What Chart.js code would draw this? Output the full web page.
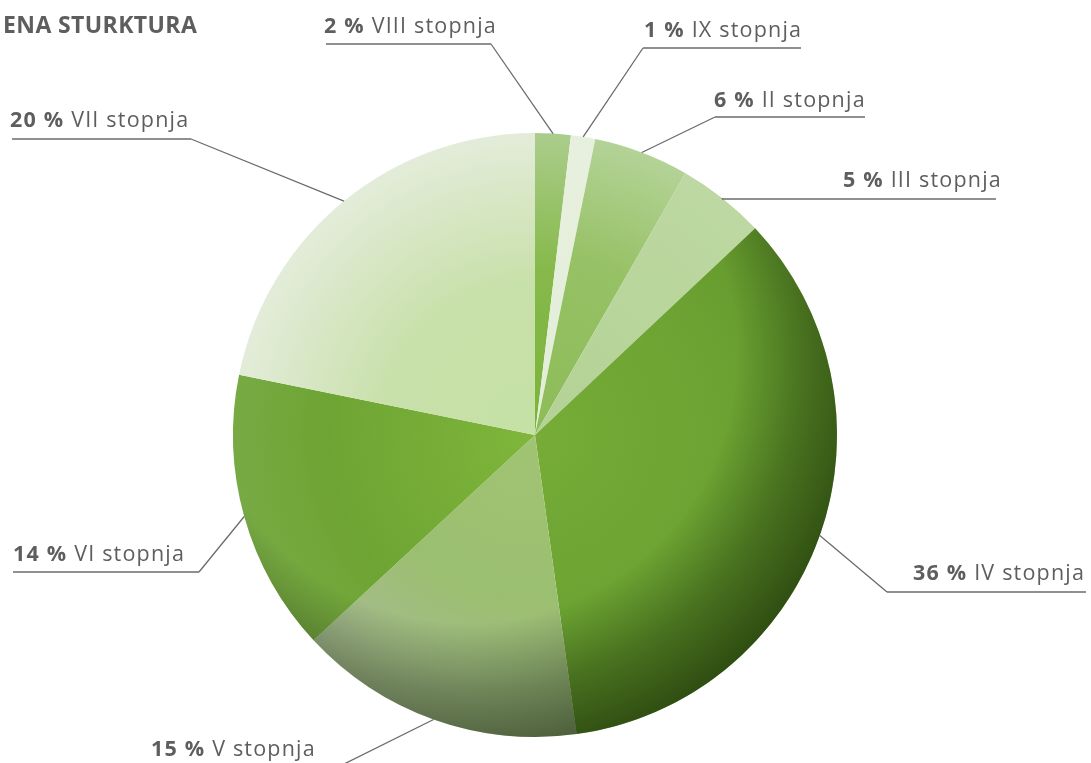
<!DOCTYPE html>
<html>
<head>
<meta charset="utf-8">
<script src="https://cdn.jsdelivr.net/npm/chart.js@4.4.1/dist/chart.umd.min.js"></script>
<style>
  html, body { margin: 0; padding: 0; background: #fff; }
  canvas { display: block; }
</style>
</head>
<body>
<canvas id="pie" width="1091" height="763"></canvas>
<script>
// Data
const titleText = "ENA STURKTURA";
const categories = ["VIII stopnja", "IX stopnja", "II stopnja", "III stopnja", "IV stopnja", "V stopnja", "VI stopnja", "VII stopnja"];
const percentLabels = [2, 1, 6, 5, 36, 15, 14, 20];
const sliceShares = [1.9, 1.3, 5.1, 4.7, 34.8, 15.3, 15.1, 21.8];

// Styles: radial colour stops per slice (from centre to rim)
const sliceStops = [
    [[0, "#7bb339"], [0.55, "#86b94a"], [1, "#abcd8c"]],
    [[0, "#e2eed8"], [1, "#e7f0de"]],
    [[0, "#8dbc58"], [0.6, "#97c165"], [1, "#b3d397"]],
    [[0, "#b3d294"], [1, "#bdd8a2"]],
    [[0, "#76ac37"], [0.6, "#6ca332"], [1, "#64992e"]],
    [[0, "#a0c473"], [0.55, "#9bbf70"], [1, "#a9ba97"]],
    [[0, "#7fb63b"], [0.7, "#6ea433"], [1, "#78aa44"]],
    [[0, "#c5e1a5"], [0.5, "#c8e0aa"], [1, "#e3ecd9"]]
];
// slices that get the rim shadow (lower right side of the pie)
const shadedSlices = [4, 5, 6];

// Label layout: text left x, baseline y, underline y, underline from/to, elbow x
const labelLayout = [
    { tx: 324, ty: 33, uy: 44, u0: 326, u1: 491, ex: 491 },
    { tx: 644, ty: 37, uy: 48, u0: 643, u1: 801, ex: 643 },
    { tx: 714, ty: 107, uy: 117, u0: 715, u1: 865, ex: 715 },
    { tx: 843, ty: 187, uy: 199, u0: 722, u1: 996, ex: 722 },
    { tx: 913, ty: 580, uy: 592, u0: 887, u1: 1086, ex: 887 },
    { tx: 151, ty: 756, uy: 768, u0: 150, u1: 336, ex: 336 },
    { tx: 13, ty: 561, uy: 572, u0: 13, u1: 199, ex: 199 },
    { tx: 10, ty: 127, uy: 139, u0: 12, u1: 191, ex: 191 }
];

const textColor = "#5e5e5e";
const lineColor = "#6b6b6b";
const fontFamily = "'Open Sans', 'Noto Sans', sans-serif";

function pieGeom(chart) {
    const a = chart.chartArea;
    return {
        cx: (a.left + a.right) / 2,
        cy: (a.top + a.bottom) / 2,
        r: Math.min(a.right - a.left, a.bottom - a.top) / 2
    };
}

function sliceFill(ctx) {
    const chart = ctx.chart;
    const stops = sliceStops[ctx.dataIndex];
    if (!chart.chartArea) return stops[0][1];
    const { cx, cy, r } = pieGeom(chart);
    const g = chart.ctx.createRadialGradient(cx, cy, 0, cx, cy, r);
    stops.forEach(s => g.addColorStop(s[0], s[1]));
    return g;
}

// darkening towards the lower right rim, like the original's lighting
const shadePlugin = {
    id: "shade",
    afterDatasetsDraw(chart) {
        const arcs = chart.getDatasetMeta(0).data;
        if (!arcs.length) return;
        const { x, y, outerRadius: r } = arcs[0];
        const ctx = chart.ctx;
        const ox = x - 0.35 * 0.64 * r, oy = y - 0.35 * 0.77 * r;
        const R = 1.35 * r;
        const g = ctx.createRadialGradient(ox, oy, 0, ox, oy, R);
        g.addColorStop(0, "rgba(22,42,4,0)");
        g.addColorStop(0.66, "rgba(22,42,4,0)");
        g.addColorStop(0.83, "rgba(22,42,4,0.38)");
        g.addColorStop(1, "rgba(22,42,4,0.68)");
        ctx.save();
        ctx.beginPath();
        shadedSlices.forEach(i => {
            const a = arcs[i];
            ctx.moveTo(x, y);
            ctx.arc(x, y, r, a.startAngle, a.endAngle);
            ctx.closePath();
        });
        ctx.clip();
        ctx.fillStyle = g;
        ctx.fillRect(x - r, y - r, 2 * r, 2 * r);
        ctx.restore();
    }
};

const labelPlugin = {
    id: "leaderLabels",
    afterDraw(chart) {
        const ctx = chart.ctx;
        const meta = chart.getDatasetMeta(0);
        ctx.save();
        // title
        ctx.fillStyle = textColor;
        ctx.letterSpacing = "0.4px";
        ctx.font = "bold 23px " + fontFamily;
        ctx.textBaseline = "alphabetic";
        ctx.fillText(titleText, 3, 33);

        ctx.letterSpacing = "1.2px";
        meta.data.forEach((arc, i) => {
            const L = labelLayout[i];
            const mid = (arc.startAngle + arc.endAngle) / 2;
            const ax = arc.x + Math.cos(mid) * arc.outerRadius;
            const ay = arc.y + Math.sin(mid) * arc.outerRadius;
            ctx.strokeStyle = lineColor;
            ctx.lineWidth = 1.3;
            ctx.beginPath();
            ctx.moveTo(ax, ay);
            ctx.lineTo(L.ex, L.uy);
            ctx.stroke();
            ctx.beginPath();
            ctx.moveTo(L.u0, L.uy);
            ctx.lineTo(L.u1, L.uy);
            ctx.stroke();

            const bold = percentLabels[i] + " %";
            ctx.fillStyle = textColor;
            ctx.font = "bold 21.5px " + fontFamily;
            ctx.fillText(bold, L.tx, L.ty);
            const w = ctx.measureText(bold).width;
            ctx.font = "21.5px " + fontFamily;
            ctx.fillText(" " + categories[i], L.tx + w, L.ty);
        });
        ctx.restore();
    }
};

new Chart(document.getElementById("pie"), {
    type: "pie",
    data: {
        labels: categories,
        datasets: [{
            data: sliceShares,
            backgroundColor: sliceFill,
            borderWidth: 0
        }]
    },
    options: {
        responsive: false,
        animation: false,
        layout: { padding: { top: 133, bottom: 26, left: 200, right: 221 } },
        plugins: {
            legend: { display: false },
            tooltip: { enabled: false }
        }
    },
    plugins: [shadePlugin, labelPlugin]
});
</script>
</body>
</html>
